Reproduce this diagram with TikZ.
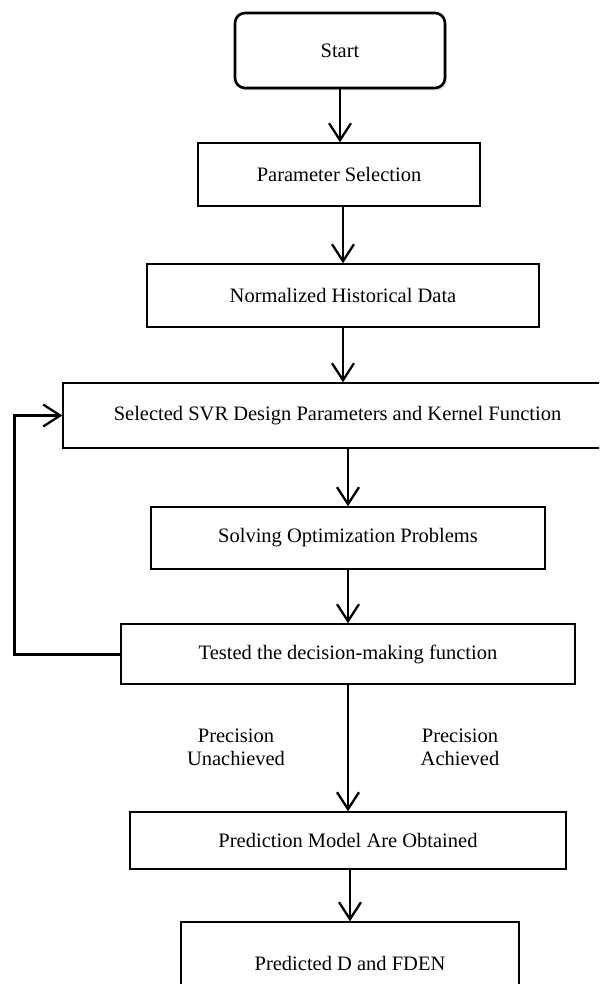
\documentclass[tikz,border=0pt]{standalone}
\usepackage{fontspec}
\setmainfont{Liberation Serif}
\usetikzlibrary{arrows.meta,shadows}
\begin{document}
\begin{tikzpicture}[x=1pt,y=-1pt,
  box/.style={draw=black,fill=white,line width=1.4pt,rectangle,inner sep=0pt,align=center,
    font=\fontsize{20.5}{23}\selectfont},
  startbox/.style={box,line width=2.6pt,rounded corners=10pt,
    drop shadow={opacity=0.25,shadow xshift=1.5pt,shadow yshift=-2.5pt}},
  arr/.style={line width=2.3pt,-{Straight Barb[length=17pt,width=22pt,line width=2.3pt]}},
  lbl/.style={align=center,font=\fontsize{20.5}{23}\selectfont,inner sep=0pt}]
\clip (0,0) rectangle (599,984);
\fill[white] (0,0) rectangle (599,984);

\node[startbox,minimum width=210pt,minimum height=75pt] (start) at (340,50.5) {Start};
\node[box,minimum width=282pt,minimum height=63pt] (par) at (339,174.5) {Parameter Selection};
\node[box,minimum width=392pt,minimum height=63pt] (norm) at (343,295.5) {Normalized Historical Data};
\node[box,minimum width=549pt,minimum height=65pt] (sel) at (337.5,415.5) {Selected SVR Design Parameters and Kernel Function};
\node[box,minimum width=394pt,minimum height=62pt] (solve) at (348,538) {Solving Optimization Problems};
\node[box,minimum width=454pt,minimum height=60pt] (test) at (348,654) {Tested the decision-making function};
\node[box,minimum width=436pt,minimum height=57pt] (pred) at (348,840.5) {Prediction Model Are Obtained};
\node[box,minimum width=338pt,minimum height=82pt] (fin) at (350,963) {Predicted D and FDEN};

\node[lbl] (unach) at (236,747) {Precision\\Unachieved};
\node[lbl] (ach) at (460,747) {Precision\\Achieved};

\draw[arr] (start.south) -- (start.south |- par.north);
\draw[arr] (par.south -| norm.north) -- (norm.north);
\draw[arr] (norm.south) -- (norm.south |- sel.north);
\draw[arr] (sel.south -| solve.north) -- (solve.north);
\draw[arr] (solve.south) -- (solve.south |- test.north);
\draw[arr] (test.south) -- (test.south |- pred.north);
\draw[arr] (pred.south -| fin.north) -- (fin.north);

\coordinate (lb) at (14,654);
\coordinate (lt) at (14,415.5);
\draw[line width=3pt,-{Straight Barb[length=17pt,width=22pt,line width=2.3pt]}]
  (test.west) -- (lb) -- (lt) -- (sel.west);
\end{tikzpicture}
\end{document}
